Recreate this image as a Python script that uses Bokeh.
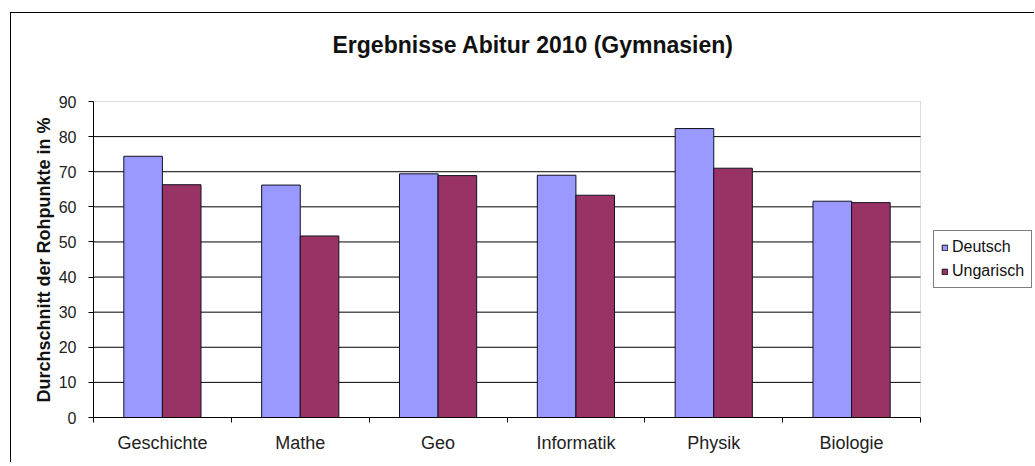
from bokeh.plotting import figure
from bokeh.models import Range1d, FixedTicker, Legend, LegendItem, BoxAnnotation, Label, Title
from bokeh.embed import file_html
from bokeh.resources import INLINE
import numpy as np

categories = ["Geschichte", "Mathe", "Geo", "Informatik", "Physik", "Biologie"]
deutsch = [74.4, 66.2, 69.4, 69.0, 82.3, 61.6]
ungarisch = [66.3, 51.7, 68.9, 63.3, 71.0, 61.2]
series_names = ["Deutsch", "Ungarisch"]
y_ticks = [0, 10, 20, 30, 40, 50, 60, 70, 80, 90]
title_text = "Ergebnisse Abitur 2010 (Gymnasien)"
y_label = "Durchschnitt der Rohpunkte in %"

FONT = "Liberation Sans"

# layout (pixels): canvas 1024x450, frame covers everything right of the y axis
W, H = 1024, 450
LEFT, BOTTOM = 82, 46
AREA_W, AREA_H = 827, 316          # visible plot area inside the frame
frame_w, frame_h = W - LEFT, H - BOTTOM
n = len(categories)
y_max = y_ticks[-1]
x_end = n * frame_w / AREA_W
y_end = y_max * frame_h / AREA_H

p = figure(width=W, height=H, output_backend="svg", toolbar_location=None,
           x_range=Range1d(0, x_end), y_range=Range1d(0, y_end),
           min_border_left=LEFT, min_border_right=0, min_border_top=0, min_border_bottom=BOTTOM)
p.styles = {"border-left": "1px solid #000", "border-top": "1px solid #000",
            "margin-left": "10px", "margin-top": "12px"}
p.outline_line_color = None
p.background_fill_color = "white"
p.border_fill_color = "white"
p.xgrid.grid_line_color = None
p.ygrid.grid_line_color = None

# horizontal grid lines across the plot area only
grid_vals = y_ticks[1:-1]
p.segment(x0=[0] * len(grid_vals), x1=[n] * len(grid_vals), y0=grid_vals, y1=grid_vals,
          line_color="#000000", line_width=1)

# plot area border (grey, top/right visible)
p.add_layout(BoxAnnotation(left=0, right=n, bottom=0, top=y_max, fill_alpha=0,
                           line_color="#8c8c8c", line_width=1, level="underlay"))

centers = np.arange(n) + 0.5
bw = 0.28
r1 = p.vbar(x=centers - bw / 2, top=deutsch, width=bw, bottom=0,
            fill_color="#9999FF", line_color="#111122", line_width=1)
r2 = p.vbar(x=centers + bw / 2, top=ungarisch, width=bw, bottom=0,
            fill_color="#993366", line_color="#111122", line_width=1)

# title
p.add_layout(Label(x=3.19, y=106, text=title_text, text_align="center", text_baseline="middle",
                   text_font=FONT, text_font_size="23px", text_font_style="bold",
                   text_color="#111111"))

# y axis
p.yaxis.bounds = (0, y_max)
p.yaxis.ticker = FixedTicker(ticks=y_ticks)
p.yaxis.major_label_text_font = FONT
p.yaxis.major_label_text_font_size = "16px"
p.yaxis.major_label_text_color = "#222222"
p.yaxis.major_label_standoff = 12
p.yaxis.major_tick_out = 5
p.yaxis.major_tick_in = 0
p.yaxis.minor_tick_line_color = None
p.yaxis.axis_line_color = "#000000"
p.yaxis.major_tick_line_color = "#000000"

# y axis title, placed along the plot area only
p.add_layout(Title(text=y_label, align="left", offset=15, text_font=FONT,
                   text_font_size="18px", text_font_style="bold", text_color="#111111",
                   standoff=4), "left")

# x axis: labels at category centres, tick marks at category boundaries
p.xaxis.bounds = (0, n)
p.xaxis.ticker = FixedTicker(ticks=list(centers), minor_ticks=list(range(n + 1)))
p.xaxis.major_label_overrides = {float(c): name for c, name in zip(centers, categories)}
p.xaxis.major_tick_line_color = None
p.xaxis.major_tick_out = 0
p.xaxis.major_tick_in = 0
p.xaxis.minor_tick_out = 5
p.xaxis.minor_tick_in = 0
p.xaxis.minor_tick_line_color = "#000000"
p.xaxis.axis_line_color = "#000000"
p.xaxis.major_label_text_font = FONT
p.xaxis.major_label_text_font_size = "18px"
p.xaxis.major_label_text_color = "#222222"
p.xaxis.major_label_standoff = 10

legend = Legend(items=[LegendItem(label=series_names[0], renderers=[r1]),
                       LegendItem(label=series_names[1], renderers=[r2])],
                location=(840, 129))
legend.label_text_font = FONT
legend.label_text_font_size = "16px"
legend.label_text_color = "#111111"
legend.glyph_width = 7
legend.glyph_height = 7
legend.label_standoff = 4
legend.padding = 7
legend.spacing = 6
legend.margin = 0
legend.border_line_color = "#000000"
legend.border_line_width = 1
legend.background_fill_color = "white"
legend.background_fill_alpha = 1
p.add_layout(legend)

open("out.html", "w").write(file_html(p, INLINE))
